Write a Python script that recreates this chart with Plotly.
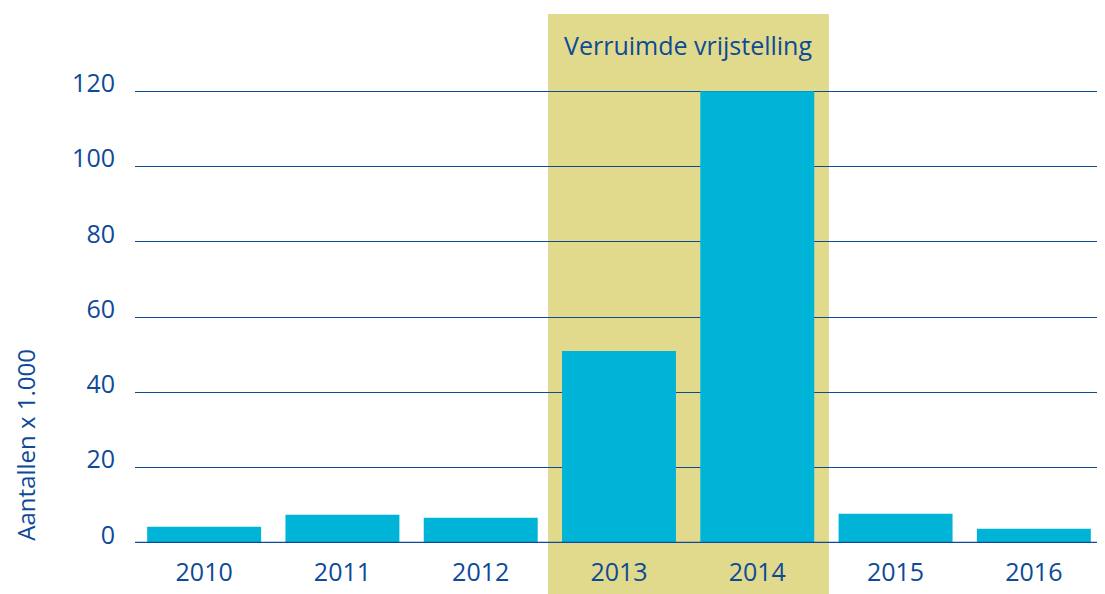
import plotly.graph_objects as go

years = ["2010", "2011", "2012", "2013", "2014", "2015", "2016"]
aantallen = [4.3, 7.5, 6.7, 51, 120, 7.8, 3.8]
y_ticks = [0, 20, 40, 60, 80, 100, 120]
highlight_label = "Verruimde vrijstelling"
y_title = "Aantallen x 1.000"

BLUE = "#0d4a97"
BAR = "#00b4d8"
HIGHLIGHT = "#e1da8c"
FONT = "Open Sans"

fig = go.Figure()
fig.add_trace(go.Bar(x=years, y=aantallen, marker_color=BAR, marker_line_width=0))

# shaded period 2013-2014
fig.add_shape(type="rect", xref="x", yref="paper",
              x0=2.487, x1=4.518, y0=-0.12, y1=1.168,
              fillcolor=HIGHLIGHT, line_width=0, layer="below")
fig.add_annotation(x=3.5, xref="x", y=1.1, yref="paper", text=highlight_label,
                   showarrow=False, yanchor="middle",
                   font=dict(size=25, color=BLUE, family=FONT))
fig.add_annotation(x=-0.114, xref="paper", y=0, yref="paper", text=y_title,
                   textangle=-90, showarrow=False, xanchor="center", yanchor="bottom",
                   font=dict(size=24, color=BLUE, family=FONT))

# page body has an 8px margin, so the figure is shrunk and the margins shifted
fig.update_layout(
    width=1097, height=586,
    margin=dict(l=127, r=2, t=82, b=51, autoexpand=False),
    plot_bgcolor="white", paper_bgcolor="white",
    bargap=0.176, showlegend=False,
    font=dict(family=FONT, color=BLUE, size=25),
)
fig.update_xaxes(showgrid=False, showline=False, ticks="", automargin=False,
                 ticklabelstandoff=12, tickfont=dict(size=25, color=BLUE))
fig.update_yaxes(range=[0, 120.3], tickvals=y_ticks, showgrid=True, gridcolor=BLUE, gridwidth=1,
                 zeroline=False, showline=False, ticks="", ticklabelstandoff=19, automargin=False,
                 ticklabelshift=-8, tickfont=dict(size=25, color=BLUE))
# baseline
fig.add_hline(y=0, line_color=BLUE, line_width=2.5)

fig.write_html("out.html")
